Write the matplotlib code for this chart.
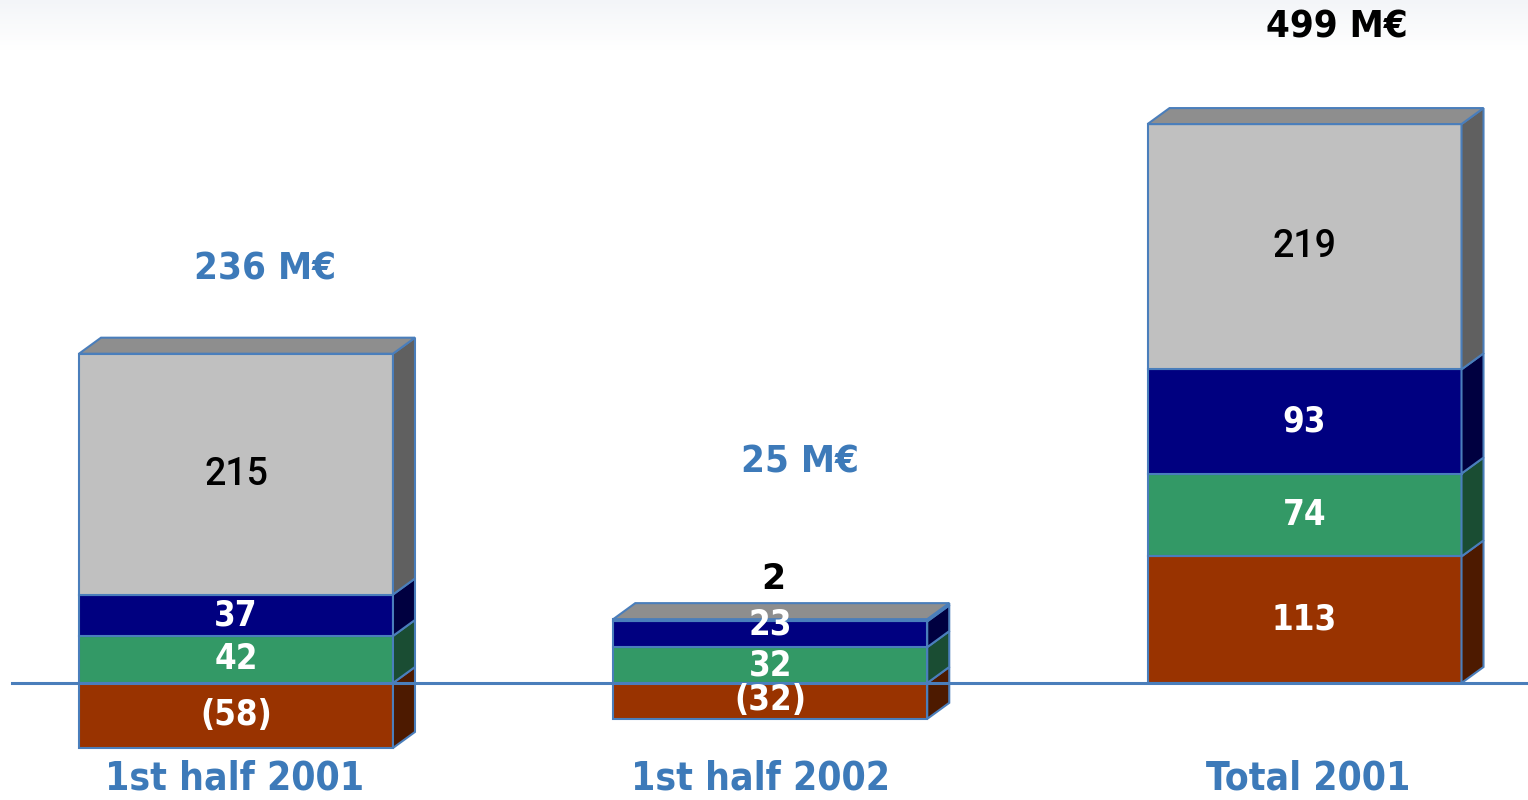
import numpy as np
import matplotlib.pyplot as plt
from matplotlib.colors import LinearSegmentedColormap
from matplotlib.patches import Polygon

# data (M EUR)
categories = ['1st half 2001', '1st half 2002', 'Total 2001']
rust = [-58, -32, 113]
green = [42, 32, 74]
navy = [37, 23, 93]
gray = [215, 2, 219]
totals = ['236 M€', '25 M€', '499 M€']

# layout
total_y = [369, 197, 585]
total_col = ['#3d7ab9', '#3d7ab9', 'black']
total_dx = [0.055, 0.055, 0.06]
cat_dx = [-0.003, -0.019, 0.007]

front = ['#993300', '#339966', '#000080', '#c0c0c0']
side = ['#4d1a00', '#1a4d33', '#000040', '#606060']
top_col = '#8e8e8e'
edge = '#4a7ebb'

fig = plt.figure(figsize=(15.28, 8), dpi=100)
ax = fig.add_axes([0, 0, 1, 1])
ax.set_xlim(-0.4417, 2.4183)
ax.set_ylim(-104.46, 609.8)
ax.axis('off')

# faint haze at the top
grad = np.linspace(1, 0, 60).reshape(-1, 1)
ax.imshow(grad, extent=(-0.4417, 2.4183, 565, 609.8), aspect='auto',
          cmap=LinearSegmentedColormap.from_list('h', ['white', '#f3f5f8']), zorder=0)

w = 0.5877
dx = 0.0412
dy = 14.3

for i in range(len(categories)):
    x0 = i - w / 2
    x1 = i + w / 2
    vals = [rust[i], green[i], navy[i], gray[i]]
    segs = []
    pos = 0
    for v in vals:
        if v < 0:
            segs.append((v, 0))
        else:
            segs.append((pos, pos + v))
            pos += v
    for k, (b, t) in enumerate(segs):
        ax.bar(i, t - b, bottom=b, width=w, color=front[k], edgecolor=edge, linewidth=1.5, zorder=2)
        ax.add_patch(Polygon([(x1, b), (x1 + dx, b + dy), (x1 + dx, t + dy), (x1, t)],
                             closed=True, facecolor=side[k], edgecolor=edge, linewidth=1.5, zorder=2))
    b, t = segs[-1]
    ax.add_patch(Polygon([(x0, t), (x0 + dx, t + dy), (x1 + dx, t + dy), (x1, t)],
                         closed=True, facecolor=top_col, edgecolor=edge, linewidth=1.5, zorder=2))

    # segment labels
    for k, (b, t) in enumerate(segs):
        v = vals[k]
        txt = '(%d)' % -v if v < 0 else '%d' % v
        if k == 3:
            if v < 10:
                ax.text(i + 0.005, t + dy + 22, txt, ha='center', va='center', fontsize=25,
                        family='DejaVu Sans', fontweight='bold', color='black', zorder=4)
            else:
                ax.text(i, (b + t) / 2, txt, ha='center', va='center', fontsize=27,
                        family='Roboto', fontweight='medium', color='black', zorder=4)
        else:
            yy = (b + t) / 2
            if k == 2 and t - b < 30:
                yy += 9
            if k == 0 and v < 0 and t - b < 40:
                yy += 1
            ax.text(i, yy, txt, ha='center', va='center', fontsize=25,
                    family='DejaVu Sans', fontweight='bold', fontstretch='condensed',
                    color='white', zorder=4)

    ax.text(i + total_dx[i], total_y[i], totals[i], ha='center', va='center', fontsize=27.5,
            family='DejaVu Sans', fontweight='bold', fontstretch='condensed',
            color=total_col[i], zorder=4)
    ax.text(i + cat_dx[i], -85, categories[i], ha='center', va='center', fontsize=28,
            family='DejaVu Sans', fontweight='bold', fontstretch='condensed',
            color='#3d7ab9', zorder=4)

# baseline
ax.plot([-0.42, 2.4183], [0, 0], color='#4a7ebb', linewidth=2.2, zorder=3)

fig.savefig('out.png', dpi=100)
